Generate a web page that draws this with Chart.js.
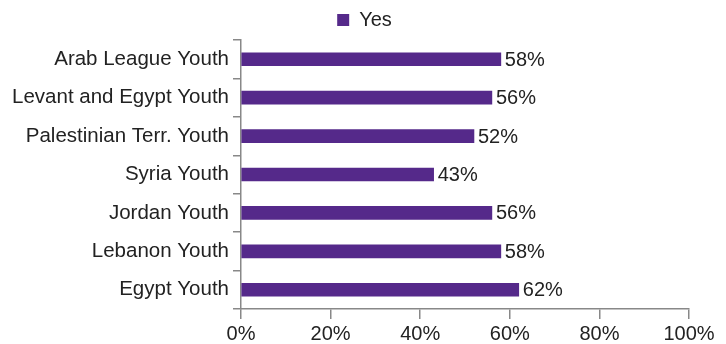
<!DOCTYPE html>
<html>
<head>
<meta charset="utf-8">
<script src="https://cdn.jsdelivr.net/npm/chart.js@4/dist/chart.umd.min.js"></script>
<style>
  html, body { margin: 0; padding: 0; background: #fff; }
  #wrap { width: 726px; height: 344px; }
</style>
</head>
<body>
<div id="wrap"><canvas id="chart"></canvas></div>
<script>
const categories = ['Arab League Youth', 'Levant and Egypt Youth', 'Palestinian Terr. Youth', 'Syria Youth', 'Jordan Youth', 'Lebanon Youth', 'Egypt Youth'];
const yesValues = [58, 56, 52, 43, 56, 58, 62];
const seriesName = 'Yes';

Chart.defaults.font.family = "'Liberation Sans', Arial, sans-serif";
Chart.defaults.color = '#222';

// value labels to the right of each bar
const barLabels = {
    id: 'barLabels',
    afterDatasetsDraw(chart) {
        const ctx = chart.ctx;
        const meta = chart.getDatasetMeta(0);
        ctx.save();
        ctx.font = "20px 'Liberation Sans', Arial, sans-serif";
        ctx.fillStyle = '#222';
        ctx.textBaseline = 'middle';
        meta.data.forEach((bar, i) => {
            ctx.fillText(yesValues[i] + '%', bar.x + 4, bar.y + 1);
        });
        ctx.restore();
    }
};

// nudge the legend so it sits centred over the full page width
const legendShift = {
    id: 'legendShift',
    afterLayout(chart) {
        chart.legend.left += 20;
        chart.legend.right += 20;
    }
};

new Chart(document.getElementById('chart'), {
    type: 'bar',
    data: {
        labels: categories,
        datasets: [{ label: seriesName, data: yesValues, backgroundColor: '#55298a', barThickness: 13 }]
    },
    options: {
        indexAxis: 'y',
        responsive: true,
        maintainAspectRatio: false,
        animation: false,
        layout: { padding: { right: 37, left: 0, top: 2 } },
        plugins: {
            legend: {
                position: 'top',
                labels: { boxWidth: 12, boxHeight: 12, font: { size: 20 }, color: '#222', padding: 8 }
            },
            tooltip: { enabled: false }
        },
        scales: {
            x: {
                min: 0, max: 100,
                ticks: { stepSize: 20, callback: v => v + '%', font: { size: 20 }, color: '#222', padding: 3, maxRotation: 0 },
                grid: { drawOnChartArea: false, tickLength: 10, color: '#888', lineWidth: 1.5 },
                border: { color: '#888', width: 1.5 },
                afterFit: s => { s.height = 35; }
            },
            y: {
                ticks: { font: { size: 20.5 }, color: '#222', padding: 4 },
                grid: { drawOnChartArea: false, tickLength: 8, color: '#888', lineWidth: 1.5, offset: true },
                border: { color: '#888', width: 1.5 },
                afterFit: s => { s.width = 241; }
            }
        }
    },
    plugins: [barLabels, legendShift]
});
</script>
</body>
</html>
